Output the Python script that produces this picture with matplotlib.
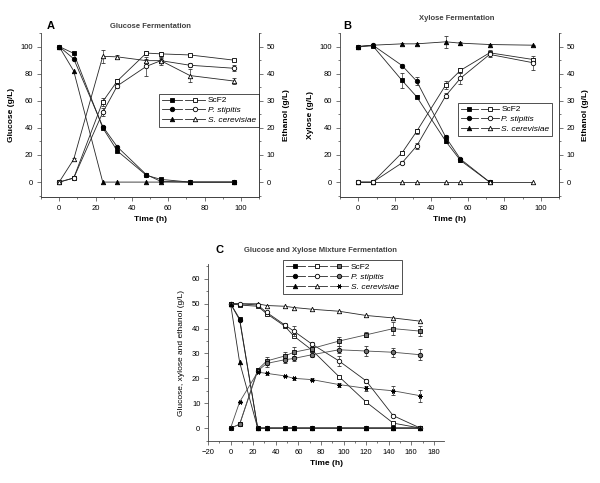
import matplotlib
matplotlib.use("Agg")
import matplotlib.pyplot as plt
from matplotlib.lines import Line2D
from matplotlib.legend_handler import HandlerTuple
from matplotlib.ticker import MultipleLocator

plt.rcParams['font.family'] = ['Liberation Sans', 'DejaVu Sans']

# ---------------- Panel A: glucose fermentation ----------------
tA = [0, 8, 24, 32, 48, 56, 72, 96]
gluA_scf2 = [100, 95, 40, 23, 5, 2, 0, 0]
gluA_pst = [100, 91, 41, 26, 5.5, 0.5, 0, 0]
gluA_sce = [100, 82, 0, 0, 0, 0, 0, 0]
ethA_scf2 = [0, 1.5, 29.7, 37.3, 47.6, 47.3, 46.9, 45.0]
ethA_pst = [0, 1.5, 25.7, 35.5, 42.7, 44.8, 43.1, 42.0]
ethA_sce = [0, 8.4, 46.4, 46.2, 44.8, 44.8, 39.3, 37.3]
errA_ethscf2 = [0, 0, 1.5, 0.8, 0.8, 0.8, 0.5, 0.4]
errA_ethpst = [0, 0, 1.5, 0.8, 3.5, 1.5, 0.8, 1.2]
errA_ethsce = [0, 0.6, 2.5, 0.5, 0.5, 1.0, 2.5, 1.2]

# ---------------- Panel B: xylose fermentation ----------------
tB = [0, 8, 24, 32, 48, 56, 72, 96]
tB_short = [0, 8, 24, 32, 48, 56, 72]
xylB_scf2 = [100, 100.5, 75, 63, 30, 16, 0]
xylB_pst = [100, 101, 86, 74.5, 33, 17, 0]
xylB_sce = [100, 101, 102, 102, 103.5, 102.5, 101.5, 101]
errB_xylscf2 = [0, 0, 5.5, 1.0, 1.0, 1.0, 0]
errB_xylpst = [0, 0, 0.8, 3.0, 1.5, 1.0, 0]
errB_xylsce = [0, 0, 0.5, 0.5, 4.5, 1.0, 0.5, 0.5]
ethB_scf2 = [0, 0, 10.8, 18.7, 35.9, 41.2, 47.7, 45.2]
ethB_pst = [0, 0, 7.1, 13.3, 31.9, 38.3, 47.1, 44.0]
ethB_sce = [0, 0, 0, 0, 0, 0, 0, 0]
errB_ethscf2 = [0, 0, 0.5, 1.0, 1.5, 0.8, 1.0, 0.5]
errB_ethpst = [0, 0, 0.5, 1.0, 1.0, 2.0, 0.8, 2.5]

# ---------------- Panel C: glucose + xylose mixture ----------------
tC = [0, 8, 24, 32, 48, 56, 72, 96, 120, 144, 168]
gluC_scf2 = [50, 44, 0, 0, 0, 0, 0, 0, 0, 0, 0]
gluC_pst = [50, 43.5, 0, 0, 0, 0, 0, 0, 0, 0, 0]
gluC_sce = [50, 26.5, 0, 0, 0, 0, 0, 0, 0, 0, 0]
xylC_scf2 = [50, 49.5, 49, 46, 41, 37, 31.4, 20.7, 10.5, 2, 0]
xylC_pst = [50, 50, 49.5, 46.5, 41.5, 39, 33.8, 27, 19, 5, 0]
xylC_sce = [50, 50, 50, 49.3, 49, 48.5, 47.8, 47, 45.3, 44.3, 43]
errC_xylpst = [0, 0, 0, 0.5, 0.8, 2.0, 1.0, 2.0, 0.8, 0.5, 0]
ethC_scf2 = [0, 1.5, 23.5, 27, 29, 30.5, 32, 35, 37.5, 40, 39]
ethC_pst = [0, 1.5, 23, 26, 27.5, 28, 29.5, 31.5, 31, 30.5, 29.5]
ethC_sce = [0, 10.5, 22.5, 22, 21, 20, 19.5, 17.5, 16, 15, 13]
errC_ethscf2 = [0, 0, 0.8, 1.5, 1.5, 2.0, 1.0, 1.8, 1.0, 2.5, 2.0]
errC_ethpst = [0, 0, 0.5, 1.5, 1.5, 1.0, 1.0, 1.5, 2.2, 1.8, 2.2]
errC_ethsce = [0, 0.5, 0.5, 0.5, 0.5, 0.5, 0.5, 0.8, 1.0, 1.8, 2.5]

labels = ['ScF2', 'P. stipitis', 'S. cerevisiae']

FS = 5.5
LW = 0.6
MS = 3.2
LC = '0.15'

fig = plt.figure(figsize=(6, 4.83), dpi=100)


def style_axis(ax, right=False):
    ax.spines['top'].set_visible(False)
    if not right:
        ax.spines['right'].set_visible(False)
    for s in ax.spines.values():
        s.set_linewidth(0.6)
        s.set_color('0.25')
    ax.tick_params(which='both', direction='out', labelsize=FS, width=0.5, color='0.25', pad=2.5)
    ax.tick_params(which='major', length=3)
    ax.tick_params(which='minor', length=1.6)


def series(ax, x, y, marker, filled, err=None, color=LC, mfc=None, z=3):
    if mfc is None:
        mfc = 'black' if filled else 'white'
    kw = dict(color=color, lw=LW, marker=marker, ms=MS, mfc=mfc, mec='black', mew=0.6, zorder=z)
    if err is not None:
        ax.errorbar(x, y, yerr=err, elinewidth=0.5, capsize=1.3, capthick=0.5, ecolor='0.2', **kw)
    else:
        ax.plot(x, y, **kw)


def mk(marker, filled, mfc=None, color=LC):
    if mfc is None:
        mfc = 'black' if filled else 'white'
    return Line2D([], [], color=color, lw=LW, marker=marker, ms=MS, mfc=mfc, mec='black', mew=0.6)


def legend(ax, handles, anchor, hl):
    lg = ax.legend(handles, labels, handler_map={tuple: HandlerTuple(ndivide=None, pad=0.4)},
                   loc='upper right', bbox_to_anchor=anchor, fontsize=FS + 0.5, frameon=True,
                   fancybox=False, edgecolor='black', handlelength=hl, handletextpad=0.3,
                   borderpad=0.35, labelspacing=0.25, borderaxespad=0)
    lg.get_frame().set_linewidth(0.6)
    for i, t in enumerate(lg.get_texts()):
        if i > 0:
            t.set_style('italic')
    return lg


# ---------- A ----------
axA = fig.add_axes([41 / 600, 1 - 197 / 483, 218 / 600, 164 / 483])
axA2 = axA.twinx()
series(axA, tA, gluA_scf2, 's', True)
series(axA, tA, gluA_pst, 'o', True)
series(axA, tA, gluA_sce, '^', True)
series(axA2, tA, ethA_scf2, 's', False, errA_ethscf2)
series(axA2, tA, ethA_pst, 'o', False, errA_ethpst)
series(axA2, tA, ethA_sce, '^', False, errA_ethsce)
axA.set_xlim(-10, 110)
axA.set_ylim(-11, 110)
axA2.set_ylim(-5.5, 55)
axA.xaxis.set_minor_locator(MultipleLocator(10))
axA.yaxis.set_minor_locator(MultipleLocator(10))
axA2.yaxis.set_minor_locator(MultipleLocator(5))
axA.set_xticks([0, 20, 40, 60, 80, 100])
axA.set_yticks([0, 20, 40, 60, 80, 100])
axA2.set_yticks([0, 10, 20, 30, 40, 50])
style_axis(axA, right=True)
style_axis(axA2, right=True)
axA2.spines['left'].set_visible(False)
axA.set_xlabel('Time (h)', fontsize=FS + 0.5, fontweight='bold', labelpad=3)
axA.set_ylabel('Glucose (g/L)', fontsize=FS + 0.5, fontweight='bold', labelpad=4)
axA2.set_ylabel('Ethanol (g/L)', fontsize=FS + 0.5, fontweight='bold', rotation=90, labelpad=6)
axA2.set_zorder(axA.get_zorder() + 1)
axA2.patch.set_visible(False)
legend(axA2, [(mk('s', True), mk('s', False)), (mk('o', True), mk('o', False)),
              (mk('^', True), mk('^', False))], (1.0, 0.63), 5.2)
fig.text(47 / 600, 1 - 26 / 483, 'A', fontsize=8, fontweight='bold', va='center')
fig.text(150 / 600, 1 - 26 / 483, 'Glucose Fermentation', fontsize=FS, fontweight='bold',
         color='0.25', ha='center', va='center')

# ---------- B ----------
axB = fig.add_axes([340 / 600, 1 - 197 / 483, 219 / 600, 164 / 483])
axB2 = axB.twinx()
series(axB, tB_short, xylB_scf2, 's', True, errB_xylscf2)
series(axB, tB_short, xylB_pst, 'o', True, errB_xylpst)
series(axB, tB, xylB_sce, '^', True, errB_xylsce)
series(axB2, tB, ethB_scf2, 's', False, errB_ethscf2)
series(axB2, tB, ethB_pst, 'o', False, errB_ethpst)
series(axB2, tB, ethB_sce, '^', False)
axB.set_xlim(-10, 110)
axB.set_ylim(-11, 110)
axB2.set_ylim(-5.5, 55)
axB.xaxis.set_minor_locator(MultipleLocator(10))
axB.yaxis.set_minor_locator(MultipleLocator(10))
axB2.yaxis.set_minor_locator(MultipleLocator(5))
axB.set_xticks([0, 20, 40, 60, 80, 100])
axB.set_yticks([0, 20, 40, 60, 80, 100])
axB2.set_yticks([0, 10, 20, 30, 40, 50])
style_axis(axB, right=True)
style_axis(axB2, right=True)
axB2.spines['left'].set_visible(False)
axB.set_xlabel('Time (h)', fontsize=FS + 0.5, fontweight='bold', labelpad=3)
axB.set_ylabel('Xylose (g/L)', fontsize=FS + 0.5, fontweight='bold', labelpad=4)
axB2.set_ylabel('Ethanol (g/L)', fontsize=FS + 0.5, fontweight='bold', rotation=90, labelpad=5)
axB2.set_zorder(axB.get_zorder() + 1)
axB2.patch.set_visible(False)
legend(axB2, [(mk('s', True), mk('s', False)), (mk('o', True), mk('o', False)),
              (mk('^', True), mk('^', False))], (0.97, 0.575), 4.6)
fig.text(343 / 600, 1 - 26 / 483, 'B', fontsize=8, fontweight='bold', va='center')
fig.text(457 / 600, 1 - 19 / 483, 'Xylose Fermentation', fontsize=FS, fontweight='bold',
         color='0.25', ha='center', va='center')

# ---------- C ----------
axC = fig.add_axes([208 / 600, 1 - 441 / 483, 236 / 600, 177 / 483])
EC = '0.45'
ast = (6, 2, 90)
series(axC, tC, gluC_scf2, 's', True)
series(axC, tC, gluC_pst, 'o', True)
series(axC, tC, gluC_sce, '^', True, z=4)
series(axC, tC, xylC_scf2, 's', False)
series(axC, tC, xylC_pst, 'o', False, errC_xylpst)
series(axC, tC, xylC_sce, '^', False)
series(axC, tC, ethC_scf2, 's', True, errC_ethscf2, color='0.3', mfc=EC)
series(axC, tC, ethC_pst, 'o', True, errC_ethpst, color='0.3', mfc=EC)
series(axC, tC, ethC_sce, ast, True, errC_ethsce, color='0.3')
axC.set_xlim(-20, 189)
axC.set_ylim(-5.2, 66)
axC.set_xticks(range(-20, 181, 20))
axC.xaxis.set_minor_locator(MultipleLocator(10))
axC.set_yticks(range(0, 61, 10))
axC.yaxis.set_minor_locator(MultipleLocator(5))
style_axis(axC)
axC.set_xlabel('Time (h)', fontsize=FS + 0.5, fontweight='bold', labelpad=3)
axC.set_ylabel('Glucose, xylose and ethanol (g/L)', fontsize=FS + 0.5, labelpad=5)
legend(axC, [(mk('s', True), mk('s', False), mk('s', True, mfc=EC, color='0.3')),
             (mk('o', True), mk('o', False), mk('o', True, mfc=EC, color='0.3')),
             (mk('^', True), mk('^', False), mk(ast, True, color='0.3'))], (0.822, 1.02), 7.5)
axC.get_legend().set_zorder(10)
fig.text(215 / 600, 1 - 250 / 483, 'C', fontsize=8, fontweight='bold', va='center')
fig.text(320 / 600, 1 - 250 / 483, 'Glucose and Xylose Mixture Fermentation', fontsize=FS,
         fontweight='bold', color='0.25', ha='center', va='center')

fig.savefig('out.png', dpi=100, facecolor='white')
